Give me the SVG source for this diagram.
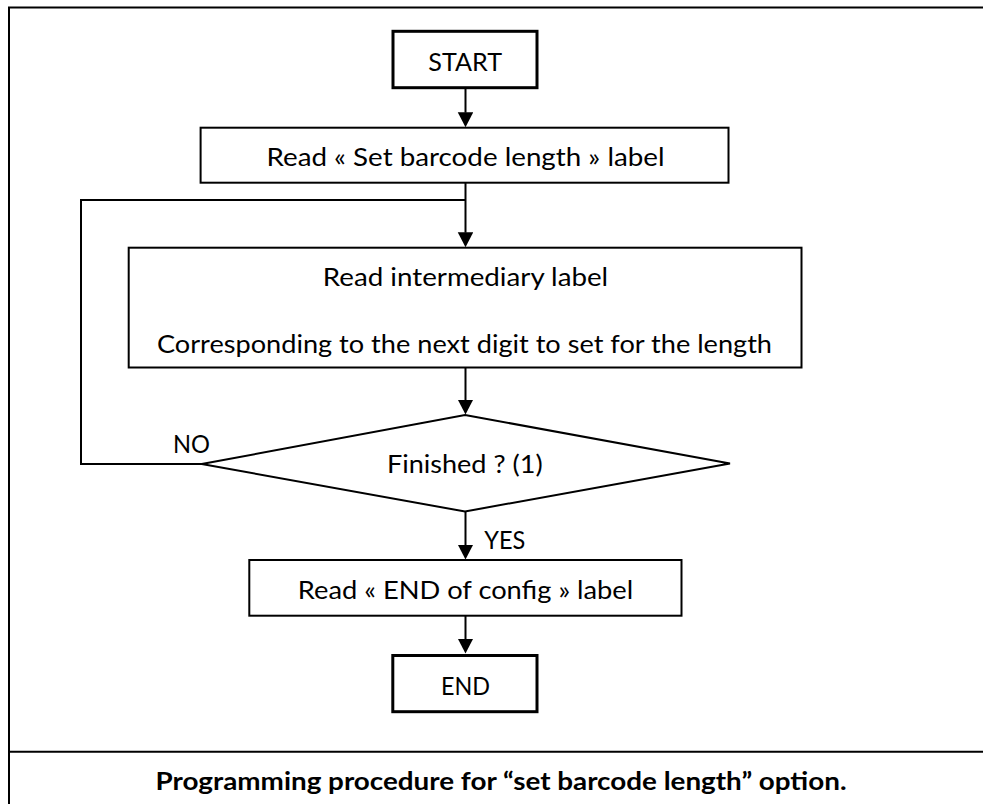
<svg xmlns="http://www.w3.org/2000/svg" width="983" height="804" viewBox="0 0 983 804">
  <style>
    .frame { fill: none; stroke: #000; stroke-width: 2; }
    .box { fill: #fff; stroke: #000; stroke-width: 2; }
    .term { fill: #fff; stroke: #000; stroke-width: 3; }
    .conn { fill: none; stroke: #000; stroke-width: 2; }
    .t { font-family: Lato, "Open Sans", "Liberation Sans", sans-serif; font-size: 25px; fill: #000; }
    .c { text-anchor: middle; }
    .cap { font-weight: bold; }
  </style>
  <defs>
    <marker id="arrow" markerUnits="userSpaceOnUse" markerWidth="16" markerHeight="16" refX="0.5" refY="7.75" orient="auto">
      <path d="M0,0 L15,7.75 L0,15.5 z" fill="#000"/>
    </marker>
    <clipPath id="clipText2">
      <rect x="130" y="320" width="670" height="37.5"/>
    </clipPath>
  </defs>

  <rect x="0" y="0" width="983" height="804" fill="#fff"/>

  <g id="frame">
    <path class="frame" d="M9,804 V7.5 H990"/>
    <path class="frame" d="M8,751.7 H990"/>
  </g>

  <g id="connectors">
    <path class="conn" d="M465.5,88 V112.7" marker-end="url(#arrow)"/>
    <path class="conn" d="M465.5,182.7 V232.7" marker-end="url(#arrow)"/>
    <path class="conn" d="M465.5,200 H81 V464 H202"/>
    <path class="conn" d="M465.5,367.5 V400" marker-end="url(#arrow)"/>
    <path class="conn" d="M465.5,511.5 V545" marker-end="url(#arrow)"/>
    <path class="conn" d="M465.5,615.7 V639" marker-end="url(#arrow)"/>
    <text class="t" x="173" y="452.5" textLength="37" lengthAdjust="spacingAndGlyphs">NO</text>
    <text class="t" x="484.3" y="548.5" textLength="41" lengthAdjust="spacingAndGlyphs">YES</text>
  </g>

  <g id="start">
    <rect class="term" x="393" y="31.3" width="144" height="56.4"/>
    <text class="t c" x="465.2" y="71" textLength="73.7" lengthAdjust="spacingAndGlyphs">START</text>
  </g>

  <g id="read-set">
    <rect class="box" x="200.6" y="127.7" width="527.9" height="55"/>
    <text class="t c" x="465.5" y="166" textLength="398" lengthAdjust="spacingAndGlyphs">Read « Set barcode length » label</text>
  </g>

  <g id="read-intermediary">
    <rect class="box" x="128.7" y="247.7" width="672.8" height="119.8"/>
    <text class="t c" x="465.5" y="286" textLength="285.3" lengthAdjust="spacingAndGlyphs">Read intermediary label</text>
    <text class="t c" x="464.5" y="353" textLength="615" lengthAdjust="spacingAndGlyphs" clip-path="url(#clipText2)">Corresponding to the next digit to set for the length</text>
  </g>

  <g id="finished">
    <polygon class="box" points="465,415 730,463.5 465,511.5 201.7,464"/>
    <text class="t c" x="464.8" y="472.7" textLength="155.7" lengthAdjust="spacingAndGlyphs">Finished ? (1)</text>
  </g>

  <g id="read-end">
    <rect class="box" x="249.3" y="560" width="432.2" height="55.7"/>
    <text class="t c" x="465.5" y="598.8" textLength="335.4" lengthAdjust="spacingAndGlyphs">Read « END of config » label</text>
  </g>

  <g id="end">
    <rect class="term" x="392.8" y="655.5" width="144.2" height="56.2"/>
    <text class="t c" x="465.5" y="695" textLength="49" lengthAdjust="spacingAndGlyphs">END</text>
  </g>

  <g id="caption">
    <text class="t c cap" x="501" y="790" textLength="691" lengthAdjust="spacingAndGlyphs">Programming procedure for “set barcode length” option.</text>
  </g>
</svg>
